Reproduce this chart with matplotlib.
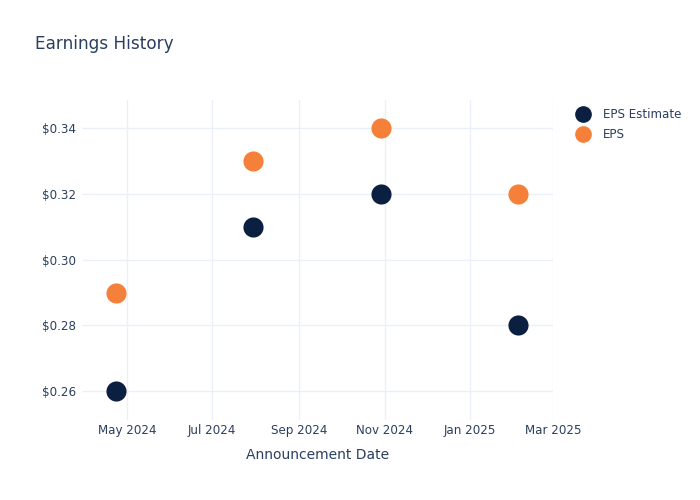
import pandas as pd
import matplotlib.pyplot as plt
import matplotlib.dates as mdates
from matplotlib.ticker import FuncFormatter
from matplotlib.lines import Line2D

# Data
dates = pd.to_datetime(['2024-04-23', '2024-07-30', '2024-10-29', '2025-02-04'])
eps_estimate = [0.26, 0.31, 0.32, 0.28]
eps_actual = [0.29, 0.33, 0.34, 0.32]

navy = '#0b1f40'
orange = '#f5803a'
text_col = '#2a3f5f'
grid_col = '#ebf0f8'

fig = plt.figure(figsize=(7, 5), dpi=100)
ax = fig.add_axes([0.117, 0.16, 0.673, 0.64])

ax.scatter(dates, eps_estimate, s=210, color=navy, zorder=3, linewidths=0)
ax.scatter(dates, eps_actual, s=210, color=orange, zorder=3, linewidths=0)

ax.set_xlim(pd.Timestamp('2024-03-30'), pd.Timestamp('2025-03-01'))
ax.set_ylim(0.2512, 0.3486)
ax.set_yticks([0.26, 0.28, 0.30, 0.32, 0.34])
ax.yaxis.set_major_formatter(FuncFormatter(lambda v, p: f'${v:.2f}'))
ax.xaxis.set_major_locator(mdates.MonthLocator(bymonth=[1, 3, 5, 7, 9, 11]))
ax.xaxis.set_major_formatter(mdates.DateFormatter('%b %Y'))

ax.grid(True, color=grid_col, linewidth=1)
ax.set_axisbelow(True)
for s in ax.spines.values():
    s.set_visible(False)
ax.tick_params(length=0, labelsize=8.6, labelcolor=text_col)
ax.tick_params(axis='x', pad=3)
ax.tick_params(axis='y', pad=4)

ax.set_xlabel('Announcement Date', fontsize=10, color=text_col, labelpad=8)
fig.text(0.05, 0.912, 'Earnings History', fontsize=12.2, color=text_col, va='center')

handles = [Line2D([], [], marker='o', linestyle='', color=navy, markersize=11),
           Line2D([], [], marker='o', linestyle='', color=orange, markersize=11)]
fig.legend(handles, ['EPS Estimate', 'EPS'], loc='upper left',
           bbox_to_anchor=(0.82, 0.784), frameon=False, fontsize=8.6,
           labelcolor=text_col, handletextpad=0.9, labelspacing=0.6,
           borderaxespad=0, borderpad=0, handlelength=1.5)

fig.savefig('out.png', dpi=100)
